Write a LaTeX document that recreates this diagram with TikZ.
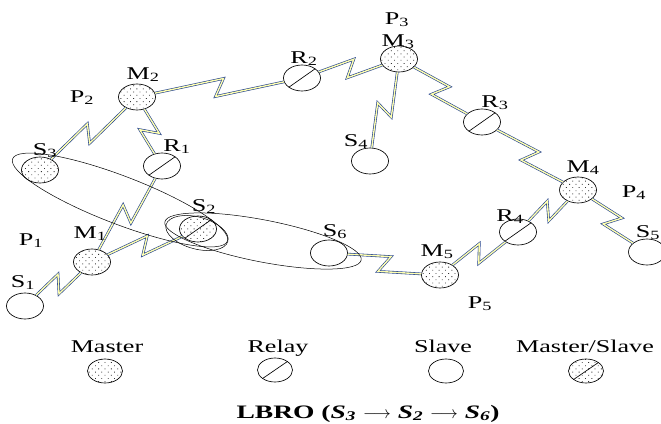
\documentclass[tikz,border=0pt]{standalone}
\usepackage{fontspec}
\setmainfont{Liberation Serif}[FakeStretch=1.45]
\usetikzlibrary{shapes.geometric,patterns.meta,calc}

\definecolor{linkblue}{RGB}{30,62,140}
\definecolor{linkfill}{RGB}{255,255,175}

\tikzset{
	dev/.style={draw, ellipse, inner sep=0pt, minimum width=37pt, minimum height=26pt, line width=0.65pt},
	master/.style={dev, pattern={Dots[distance=4.5pt, angle=45, radius=0.6pt]}, pattern color=black!80},
	diag/.style={path picture={\draw[line width=0.65pt] (path picture bounding box.south west) -- (path picture bounding box.north east);}},
	relay/.style={dev, diag},
	slave/.style={dev},
	mslave/.style={master, diag},
	link/.style={draw=linkblue, line width=0.6pt, double=linkfill, double distance=1.4pt},
	lbl/.style={font=\fontsize{18}{20}\selectfont, inner sep=0pt, anchor=base},
	group/.style={draw, ellipse, line width=0.5pt, inner sep=0pt}
}

% wireless hop with a lightning kink in the middle
\newcommand\bolt[2]{%
	\coordinate (bm) at ($(#1)!0.5!(#2)$);
	\draw[link] (#1) -- ($(bm)!5pt!(#2)!8.5pt!90:(#2)$)
	-- ($(bm)!-5pt!(#2)!8.5pt!-90:(#2)$) -- (#2);}

\begin{document}
\begin{tikzpicture}[x=1pt, y=-1pt]
	\fill[white] (0,0) rectangle (661,423);
	\useasboundingbox (0,0) rectangle (661,423);
	
	%% -- devices
	\node[slave]  (S1) at (25,306) {};
	\node[master] (M1) at (92,262) {};
	\node[master] (S3) at (40,170) {};
	\node[master] (M2) at (137,97) {};
	\node[relay]  (R1) at (162,166) {};
	\node[mslave] (S2) at (198,229) {};
	\node[relay]  (R2) at (302,78) {};
	\node[master] (M3) at (399,59) {};
	\node[slave]  (S4) at (370,161) {};
	\node[relay]  (R3) at (482,122) {};
	\node[master] (M4) at (578,190) {};
	\node[slave]  (S5) at (647,252) {};
	\node[relay]  (R4) at (518,232) {};
	\node[master] (M5) at (440,275) {};
	\node[slave]  (S6) at (329,253) {};
	
	%% -- radio links
	\bolt{S1}{M1}
	\bolt{M1}{R1}
	\bolt{M1}{S2}
	\bolt{R1}{M2}
	\bolt{S3}{M2}
	\bolt{M2}{R2}
	\bolt{R2}{M3}
	\bolt{M3}{S4}
	\bolt{M3}{R3}
	\bolt{R3}{M4}
	\bolt{M4}{S5}
	\bolt{M4}{R4}
	\bolt{R4}{M5}
	\bolt{M5}{S6}
	
	%% -- route groups
	\node[group, minimum width=230pt, minimum height=48pt, rotate=-21] (grpA) at (120,200) {};
	\node[group, minimum width=200pt, minimum height=42pt, rotate=-11] (grpB) at (263,241) {};
	\node[group, minimum width=64pt, minimum height=32pt, rotate=-15] (grpS) at (197,233) {};
	
	%% -- labels
	\node[lbl] (lM2) at (143,79) {M\textsubscript{2}};
	\node[lbl] (lP2) at (82,102) {P\textsubscript{2}};
	\node[lbl] (lS3) at (45,155) {S\textsubscript{3}};
	\node[lbl] (lR1) at (177,151) {R\textsubscript{1}};
	\node[lbl] (lP1) at (31,245) {P\textsubscript{1}};
	\node[lbl] (lM1) at (90,238) {M\textsubscript{1}};
	\node[lbl] (lS1) at (23,287) {S\textsubscript{1}};
	\node[lbl] (lS2) at (204,211) {S\textsubscript{2}};
	\node[lbl] (lS6) at (335,236) {S\textsubscript{6}};
	\node[lbl] (lM5) at (437,256) {M\textsubscript{5}};
	\node[lbl] (lP5) at (480,308) {P\textsubscript{5}};
	\node[lbl] (lR4) at (510,221) {R\textsubscript{4}};
	\node[lbl] (lM4) at (583,172) {M\textsubscript{4}};
	\node[lbl] (lP4) at (634,197) {P\textsubscript{4}};
	\node[lbl] (lS5) at (648,237) {S\textsubscript{5}};
	\node[lbl] (lR3) at (495,107) {R\textsubscript{3}};
	\node[lbl] (lS4) at (356,146) {S\textsubscript{4}};
	\node[lbl] (lR2) at (304,63) {R\textsubscript{2}};
	\node[lbl] (lM3) at (398,46) {M\textsubscript{3}};
	\node[lbl] (lP3) at (397,24) {P\textsubscript{3}};
	
	%% -- legend
	\node[lbl] (kMaster) at (107,352) {Master};
	\node[lbl] (kRelay)  at (278,352) {Relay};
	\node[lbl] (kSlave)  at (443,352) {Slave};
	\node[lbl] (kMS)     at (585,352) {Master/Slave};
	\node[master, minimum width=35pt, minimum height=24pt] (iMaster) at (105,371) {};
	\node[relay,  minimum width=35pt, minimum height=24pt] (iRelay)  at (275,370) {};
	\node[slave,  minimum width=35pt, minimum height=24pt] (iSlave)  at (446,371) {};
	\node[mslave, minimum width=35pt, minimum height=24pt] (iMS)     at (586,371) {};
	
	\node[lbl, font=\fontsize{19}{21}\selectfont\bfseries] (caption) at (368,418)
	{LBRO (\textit{S\textsubscript{3}} $\longrightarrow$ \textit{S\textsubscript{2}} $\longrightarrow$ \textit{S\textsubscript{6}})};
\end{tikzpicture}
\end{document}
